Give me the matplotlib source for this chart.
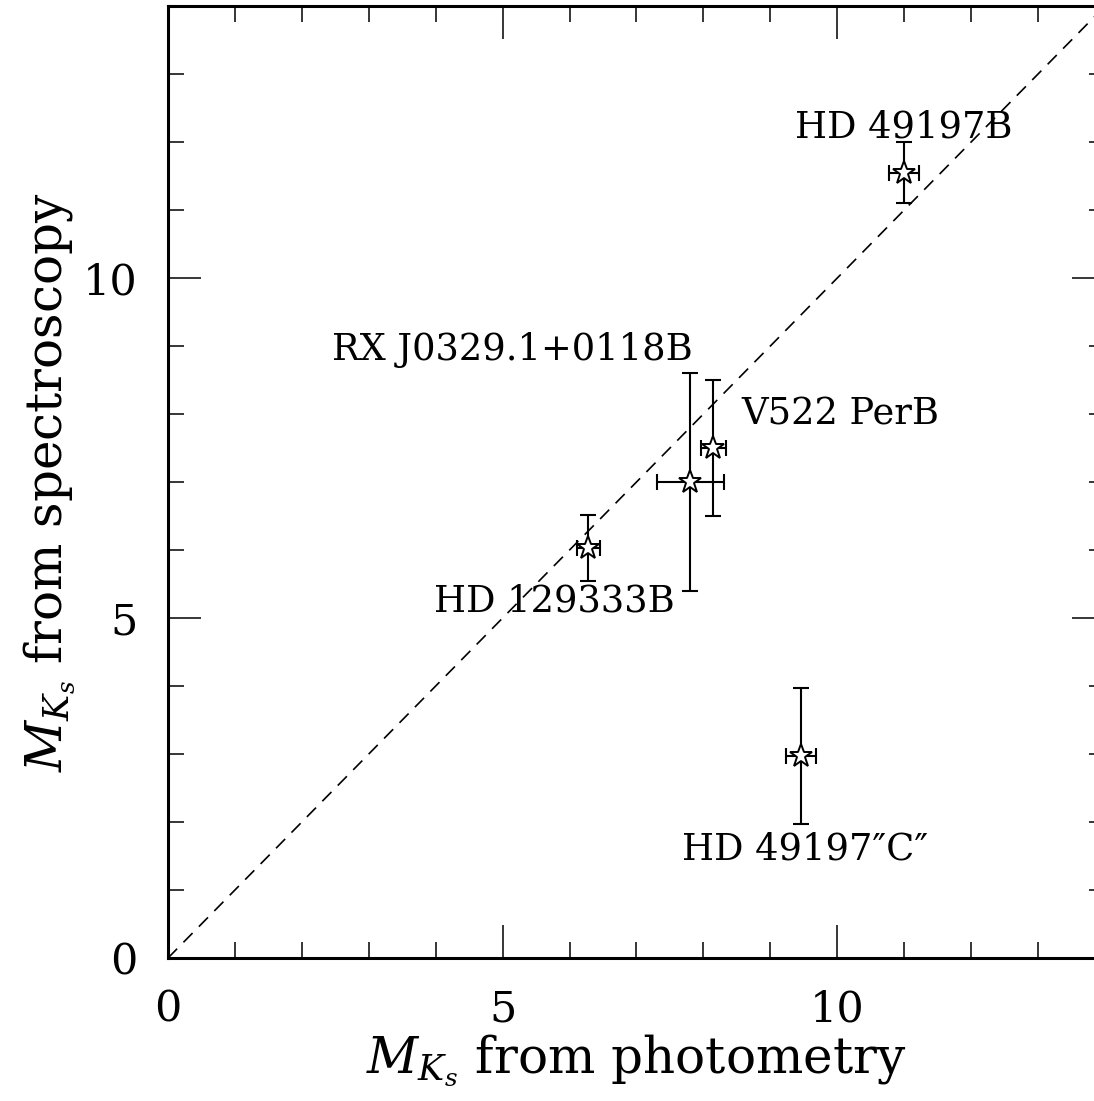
import matplotlib
matplotlib.use("Agg")
import matplotlib.pyplot as plt
from matplotlib.ticker import MultipleLocator

# photometric vs spectroscopic absolute K_s magnitudes
names = ["HD 49197B", "HD 129333B", "RX J0329.1+0118B", "V522 PerB", "HD 49197\u2033C\u2033"]
mk_phot = [11.0, 6.28, 7.8, 8.15, 9.46]
mk_phot_err = [0.22, 0.17, 0.5, 0.19, 0.22]
mk_spec = [11.55, 6.03, 7.0, 7.5, 2.97]
mk_spec_err = [0.45, 0.49, 1.6, 1.0, 1.0]

# label anchor positions (data coords)
label_x = [11.0, 5.77, 5.15, 10.05, 9.52]
label_y = [12.22, 5.24, 8.94, 7.99, 1.59]

plt.rcParams['font.family'] = ['DejaVu Serif', 'DejaVu Sans']
plt.rcParams['mathtext.fontset'] = 'dejavuserif'

fig = plt.figure(figsize=(10.94, 11.01), dpi=100)
ax = fig.add_axes([168 / 1094, 143 / 1101, 937 / 1094, 952 / 1101])

# one-to-one line
ax.plot([0, 14], [0, 14], color='black', lw=1.2, dashes=(7.8, 5.4))

ax.errorbar(mk_phot, mk_spec, xerr=mk_phot_err, yerr=mk_spec_err,
            fmt='none', ecolor='black', elinewidth=1.5, capsize=6, capthick=1.5)
ax.plot(mk_phot, mk_spec, ls='none', marker='*', ms=17,
        mfc='white', mec='black', mew=1.4)

for name, lx, ly in zip(names, label_x, label_y):
    ax.text(lx, ly, name, ha='center', va='center', fontsize=26.5)

ax.set_xlim(0, 14)
ax.set_ylim(0, 14)
ax.xaxis.set_major_locator(MultipleLocator(5))
ax.xaxis.set_minor_locator(MultipleLocator(1))
ax.yaxis.set_major_locator(MultipleLocator(5))
ax.yaxis.set_minor_locator(MultipleLocator(1))
ax.tick_params(which='both', direction='in', top=True, right=True, width=1.1)
ax.tick_params(which='major', length=23.5, labelsize=31, pad=22)
ax.tick_params(which='minor', length=11.5)
for sp in ax.spines.values():
    sp.set_linewidth(2.2)

ax.set_xlabel(r'$M_{K_s}$ from photometry', fontsize=36, labelpad=1)
ax.set_ylabel(r'$M_{K_s}$ from spectroscopy', fontsize=36, labelpad=4)

fig.savefig("out.png", dpi=100)
